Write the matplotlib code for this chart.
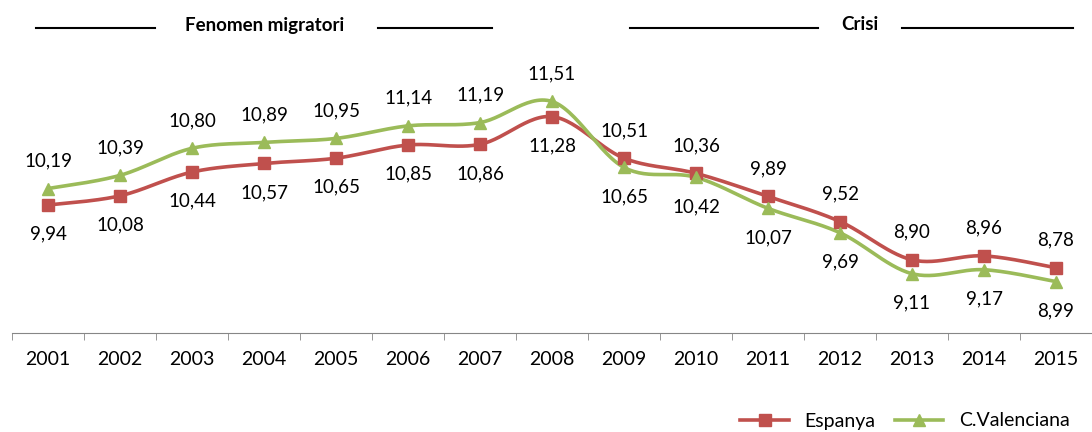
import numpy as np
import matplotlib.pyplot as plt
from matplotlib.lines import Line2D

anys = ['2001', '2002', '2003', '2004', '2005', '2006', '2007', '2008',
        '2009', '2010', '2011', '2012', '2013', '2014', '2015']
espanya = [9.94, 10.08, 10.44, 10.57, 10.65, 10.85, 10.86, 11.28,
           10.65, 10.42, 10.07, 9.69, 9.11, 9.17, 8.99]
valenciana = [10.19, 10.39, 10.80, 10.89, 10.95, 11.14, 11.19, 11.51,
              10.51, 10.36, 9.89, 9.52, 8.90, 8.96, 8.78]

roig = '#C0504D'
verd = '#9BBB59'

plt.rcParams['font.family'] = ['Lato', 'DejaVu Sans']


def suavitzar(y, n=30):
    # corba tipus Excel (Catmull-Rom amb beziers)
    y = np.asarray(y, dtype=float)
    x = np.arange(len(y), dtype=float)
    px, py = [], []
    for i in range(len(y) - 1):
        x0, y0 = x[max(i - 1, 0)], y[max(i - 1, 0)]
        x1, y1 = x[i], y[i]
        x2, y2 = x[i + 1], y[i + 1]
        x3, y3 = x[min(i + 2, len(y) - 1)], y[min(i + 2, len(y) - 1)]
        c1x, c1y = x1 + (x2 - x0) / 6, y1 + (y2 - y0) / 6
        c2x, c2y = x2 - (x3 - x1) / 6, y2 - (y3 - y1) / 6
        t = np.linspace(0, 1, n)
        bx = (1-t)**3*x1 + 3*(1-t)**2*t*c1x + 3*(1-t)*t**2*c2x + t**3*x2
        by = (1-t)**3*y1 + 3*(1-t)**2*t*c1y + 3*(1-t)*t**2*c2y + t**3*y2
        px.extend(bx)
        py.extend(by)
    return np.array(px), np.array(py)


fig = plt.figure(figsize=(10.92, 4.32), dpi=100)
ax = fig.add_axes([0.011, 0.229, 0.989, 0.611])

x = np.arange(len(anys))
for serie, color, mk in [(espanya, roig, 's'), (valenciana, verd, '^')]:
    sx, sy = suavitzar(serie)
    ax.plot(sx, sy, color=color, lw=2.6, zorder=2)
    ax.plot(x, serie, ls='none', marker=mk, ms=8.5, color=color, zorder=3)

for i in x:
    dalt = max(espanya[i], valenciana[i])
    baix = min(espanya[i], valenciana[i])
    ax.annotate(f'{valenciana[i]:.2f}'.replace('.', ','), (i, dalt),
                xytext=(0, 20), textcoords='offset points',
                ha='center', va='center', fontsize=13.5)
    ax.annotate(f'{espanya[i]:.2f}'.replace('.', ','), (i, baix),
                xytext=(0, -21), textcoords='offset points',
                ha='center', va='center', fontsize=13.5)

ax.set_xlim(-0.5, len(anys) - 0.5)
ax.set_ylim(8, 12)
ax.set_yticks([])
ax.set_xticks(x)
ax.set_xticklabels(anys, fontsize=14)
ax.set_xticks(np.arange(-0.5, len(anys)), minor=True)
ax.tick_params(axis='x', which='major', length=0, pad=13)
ax.tick_params(axis='x', which='minor', length=5, color='#868686')
for s in ['top', 'right', 'left']:
    ax.spines[s].set_visible(False)
ax.spines['bottom'].set_color('#868686')

# rètols de períodes
fig.text(265 / 1092, 1 - 25 / 432, 'Fenomen migratori', ha='center', va='center',
         fontsize=13.5, fontweight='bold')
fig.text(860 / 1092, 1 - 25 / 432, 'Crisi', ha='center', va='center',
         fontsize=13.5, fontweight='bold')
for a, b in [(36, 155), (378, 492), (630, 818), (902, 1073)]:
    fig.add_artist(Line2D([a / 1092, b / 1092], [1 - 28 / 432, 1 - 28 / 432],
                          color='black', lw=1.5))

handles = [Line2D([], [], color=roig, lw=2.6, marker='s', ms=8.5),
           Line2D([], [], color=verd, lw=2.6, marker='^', ms=8.5)]
fig.legend(handles, ['Espanya', 'C.Valenciana'], loc='center',
           bbox_to_anchor=(905 / 1092, 1 - 421 / 432), ncol=2, frameon=False,
           fontsize=14, handlelength=2.5, columnspacing=1.0, handletextpad=0.8)

fig.savefig('out.png', dpi=100)
